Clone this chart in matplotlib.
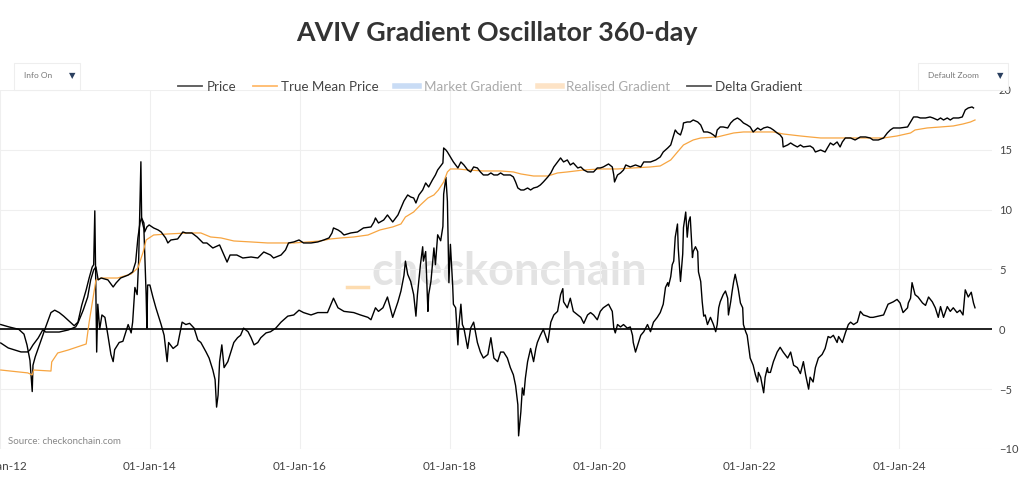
import numpy as np
import pandas as pd
import matplotlib
matplotlib.use("Agg")
import matplotlib.pyplot as plt
import matplotlib.dates as mdates
from matplotlib.lines import Line2D
from matplotlib.patches import Rectangle
from matplotlib.ticker import NullLocator

plt.rcParams["font.family"] = ["Lato", "DejaVu Sans"]

# Price (USD, log axis)
price_years = [
    2012.01, 2012.11, 2012.19, 2012.28, 2012.37, 2012.40, 2012.44, 2012.51, 2012.57, 2012.61,
    2012.68, 2012.79, 2012.91, 2013.01, 2013.04, 2013.11, 2013.17, 2013.21, 2013.25, 2013.28,
    2013.31, 2013.35, 2013.44, 2013.51, 2013.55, 2013.61, 2013.71, 2013.77, 2013.81, 2013.84,
    2013.87, 2013.89, 2013.92, 2013.93, 2013.96, 2013.99, 2014.05, 2014.11, 2014.15, 2014.21,
    2014.24, 2014.28, 2014.37, 2014.44, 2014.48, 2014.56, 2014.63, 2014.71, 2014.76, 2014.84,
    2014.93, 2015.03, 2015.07, 2015.16, 2015.24, 2015.35, 2015.44, 2015.52, 2015.61, 2015.65,
    2015.75, 2015.81, 2015.85, 2015.92, 2015.99, 2016.05, 2016.15, 2016.24, 2016.32, 2016.39,
    2016.43, 2016.45, 2016.51, 2016.55, 2016.59, 2016.68, 2016.77, 2016.85, 2016.95, 2016.99,
    2017.01, 2017.05, 2017.12, 2017.17, 2017.24, 2017.31, 2017.35, 2017.39, 2017.44, 2017.48,
    2017.52, 2017.55, 2017.59, 2017.64, 2017.68, 2017.72, 2017.77, 2017.81, 2017.84, 2017.91,
    2017.92, 2017.95, 2017.97, 2018.01, 2018.05, 2018.11, 2018.15, 2018.19, 2018.24, 2018.28,
    2018.32, 2018.37, 2018.41, 2018.45, 2018.51, 2018.55, 2018.59, 2018.64, 2018.68, 2018.72,
    2018.81, 2018.85, 2018.88, 2018.91, 2018.95, 2018.99, 2019.04, 2019.08, 2019.12, 2019.17,
    2019.21, 2019.25, 2019.31, 2019.35, 2019.39, 2019.44, 2019.48, 2019.52, 2019.57, 2019.61,
    2019.65, 2019.71, 2019.75, 2019.79, 2019.84, 2019.92, 2019.97, 2020.01, 2020.05, 2020.12,
    2020.17, 2020.19, 2020.20, 2020.24, 2020.28, 2020.32, 2020.35, 2020.41, 2020.48, 2020.55,
    2020.59, 2020.68, 2020.75, 2020.81, 2020.85, 2020.91, 2020.95, 2020.97, 2020.99, 2021.01,
    2021.04, 2021.08, 2021.11, 2021.12, 2021.17, 2021.21, 2021.25, 2021.31, 2021.35, 2021.39,
    2021.44, 2021.48, 2021.52, 2021.55, 2021.57, 2021.61, 2021.65, 2021.71, 2021.75, 2021.79,
    2021.84, 2021.88, 2021.92, 2021.97, 2022.01, 2022.05, 2022.11, 2022.15, 2022.19, 2022.24,
    2022.28, 2022.32, 2022.37, 2022.41, 2022.44, 2022.45, 2022.51, 2022.55, 2022.59, 2022.64,
    2022.68, 2022.72, 2022.81, 2022.85, 2022.88, 2022.95, 2023.01, 2023.04, 2023.08, 2023.12,
    2023.17, 2023.21, 2023.24, 2023.28, 2023.35, 2023.41, 2023.48, 2023.55, 2023.61, 2023.65,
    2023.72, 2023.79, 2023.84, 2023.88, 2023.92, 2024.01, 2024.11, 2024.15, 2024.19, 2024.24,
    2024.28, 2024.35, 2024.41, 2024.45, 2024.51, 2024.55, 2024.59, 2024.64, 2024.68, 2024.72,
    2024.79, 2024.84, 2024.88, 2024.92, 2024.97, 2024.99,
]
price_usd = [
    6.5, 5.3, 4.9, 4.5, 4.5, 4.9, 6.0, 8.0, 11.1, 10.2,
    10.2, 10.2, 11.1, 12.6, 14.8, 25, 43, 87, 131, 148,
    87, 94, 87, 65, 77, 94, 106, 121, 181, 488,
    941, 1109, 903, 624, 767, 833, 736, 678, 624, 488,
    397, 449, 468, 624, 599, 599, 508, 397, 397, 323,
    366, 181, 242, 242, 214, 223, 214, 274, 242, 214,
    242, 298, 397, 414, 449, 397, 397, 414, 449, 488,
    599, 736, 678, 624, 551, 599, 624, 736, 767, 941,
    1109, 903, 1021, 1255, 941, 1255, 1673, 2232, 2857, 2630,
    2523, 2055, 2857, 3506, 4678, 3968, 5291, 6502, 7985, 10650,
    19720, 18160, 16730, 13630, 11100, 8670, 11100, 9810, 7985, 7360,
    9040, 8670, 7360, 6502, 6502, 7060, 6500, 6500, 7060, 6500,
    6500, 5990, 4875, 3807, 3506, 3506, 3807, 3506, 3807, 3968,
    4308, 4875, 5990, 7060, 9040, 11100, 13080, 11100, 12050, 9810,
    10650, 8670, 9040, 7985, 7360, 7360, 8670, 8670, 9040, 10220,
    9040, 6500, 4875, 6500, 7060, 7985, 9810, 9040, 9810, 9040,
    11100, 11100, 12050, 13630, 16730, 19720, 22320, 27400, 33680, 41340,
    36550, 33680, 44880, 55140, 57450, 57450, 62360, 57450, 50800, 38090,
    38090, 36550, 33680, 31010, 41340, 46780, 46780, 44880, 55140, 62360,
    67710, 62360, 55140, 50800, 46780, 38090, 44880, 41340, 44880, 46780,
    44880, 41340, 36550, 33680, 29750, 20560, 22320, 24230, 22320, 20560,
    22320, 20560, 21400, 19720, 16730, 18160, 16730, 19720, 24230, 22320,
    25250, 20560, 25250, 29750, 29750, 27400, 31010, 31010, 29750, 27400,
    27400, 29750, 36550, 41340, 44880, 44880, 46780, 57450, 70550, 70550,
    67710, 67710, 70550, 67710, 62360, 67710, 62360, 67710, 62360, 67710,
    67710, 70550, 94100, 102200, 106500, 102200,
]

# True Mean Price (USD, log axis)
tmp_years = [
    2012.01, 2012.37, 2012.43, 2012.45, 2012.68, 2012.69, 2012.77, 2012.91, 2013.15, 2013.19,
    2013.28, 2013.35, 2013.57, 2013.75, 2013.84, 2013.91, 2013.95, 2014.05, 2014.24, 2014.51,
    2014.68, 2014.81, 2014.95, 2015.12, 2015.35, 2015.57, 2015.92, 2016.11, 2016.27, 2016.41,
    2016.55, 2016.72, 2016.91, 2017.07, 2017.24, 2017.35, 2017.41, 2017.52, 2017.61, 2017.71,
    2017.79, 2017.85, 2017.92, 2017.97, 2018.01, 2018.11, 2018.24, 2018.45, 2018.68, 2018.85,
    2018.95, 2019.12, 2019.31, 2019.44, 2019.57, 2019.79, 2020.01, 2020.24, 2020.45, 2020.68,
    2020.81, 2020.95, 2021.04, 2021.12, 2021.25, 2021.35, 2021.57, 2021.79, 2021.92, 2022.32,
    2022.45, 2022.68, 2022.81, 2022.95, 2023.79, 2023.97, 2024.15, 2024.21, 2024.37, 2024.55,
    2024.72, 2024.85, 2024.95, 2025.01,
]
tmp_usd = [
    2.14, 1.90, 1.75, 2.14, 2.05, 2.98, 4.31, 4.87, 6.24, 15.4,
    86.6, 94, 94, 111, 142, 274, 449, 551, 575, 599,
    599, 508, 488, 431, 414, 397, 397, 414, 431, 468,
    488, 508, 551, 678, 767, 867, 1155, 1420, 1894, 2523,
    2857, 3506, 4875, 7360, 8320, 8320, 7985, 7660, 7660, 7360,
    6780, 6230, 6230, 7060, 7360, 7985, 8320, 8320, 8670, 9040,
    9420, 12050, 16730, 22320, 27400, 29750, 31010, 36550, 38090, 38090,
    35070, 32310, 31010, 29750, 29750, 32310, 36550, 41340, 44880, 46780,
    48750, 52900, 57450, 62360,
]

# Delta Gradient (right axis)
delta_years = [
    2012.01, 2012.12, 2012.25, 2012.32, 2012.36, 2012.40, 2012.43, 2012.44, 2012.47, 2012.51,
    2012.56, 2012.61, 2012.68, 2012.73, 2012.79, 2012.85, 2012.92, 2012.99, 2013.04, 2013.09,
    2013.15, 2013.19, 2013.23, 2013.25, 2013.265, 2013.28, 2013.29, 2013.305, 2013.33, 2013.36,
    2013.40, 2013.44, 2013.48, 2013.51, 2013.53, 2013.59, 2013.64, 2013.71, 2013.75, 2013.77,
    2013.80, 2013.83, 2013.85, 2013.88, 2013.89, 2013.92, 2013.95, 2013.96, 2013.97, 2014.00,
    2014.04, 2014.08, 2014.15, 2014.19, 2014.23, 2014.25, 2014.31, 2014.37, 2014.43, 2014.48,
    2014.53, 2014.59, 2014.64, 2014.68, 2014.75, 2014.79, 2014.84, 2014.87, 2014.89, 2014.91,
    2014.93, 2014.96, 2014.99, 2015.04, 2015.08, 2015.12, 2015.17, 2015.21, 2015.25, 2015.31,
    2015.35, 2015.39, 2015.44, 2015.48, 2015.55, 2015.61, 2015.68, 2015.75, 2015.84, 2015.92,
    2015.99, 2016.05, 2016.15, 2016.24, 2016.37, 2016.45, 2016.51, 2016.59, 2016.72, 2016.81,
    2016.91, 2016.95, 2017.01, 2017.05, 2017.11, 2017.17, 2017.24, 2017.31, 2017.35, 2017.39,
    2017.41, 2017.44, 2017.48, 2017.52, 2017.55, 2017.57, 2017.61, 2017.64, 2017.65, 2017.68,
    2017.71, 2017.72, 2017.75, 2017.79, 2017.81, 2017.84, 2017.88, 2017.91, 2017.92, 2017.95,
    2017.97, 2017.99, 2018.01, 2018.04, 2018.05, 2018.08, 2018.11, 2018.12, 2018.15, 2018.17,
    2018.19, 2018.24, 2018.28, 2018.32, 2018.37, 2018.41, 2018.45, 2018.51, 2018.55, 2018.59,
    2018.64, 2018.68, 2018.72, 2018.77, 2018.81, 2018.85, 2018.88, 2018.91, 2018.92, 2018.95,
    2018.97, 2018.99, 2019.01, 2019.04, 2019.08, 2019.12, 2019.15, 2019.17, 2019.21, 2019.25,
    2019.31, 2019.35, 2019.39, 2019.44, 2019.48, 2019.51, 2019.52, 2019.57, 2019.61, 2019.65,
    2019.71, 2019.75, 2019.79, 2019.84, 2019.88, 2019.92, 2019.97, 2020.01, 2020.05, 2020.12,
    2020.17, 2020.19, 2020.21, 2020.24, 2020.28, 2020.32, 2020.37, 2020.41, 2020.44, 2020.45,
    2020.48, 2020.51, 2020.55, 2020.59, 2020.64, 2020.68, 2020.72, 2020.77, 2020.81, 2020.85,
    2020.88, 2020.91, 2020.92, 2020.95, 2020.97, 2020.99, 2021.01, 2021.04, 2021.05, 2021.08,
    2021.11, 2021.12, 2021.15, 2021.17, 2021.19, 2021.21, 2021.24, 2021.25, 2021.28, 2021.31,
    2021.32, 2021.35, 2021.37, 2021.39, 2021.41, 2021.44, 2021.48, 2021.52, 2021.55, 2021.57,
    2021.59, 2021.61, 2021.65, 2021.68, 2021.71, 2021.72, 2021.75, 2021.77, 2021.79, 2021.81,
    2021.84, 2021.85, 2021.88, 2021.91, 2021.92, 2021.95, 2021.97, 2022.01, 2022.05, 2022.08,
    2022.11, 2022.12, 2022.15, 2022.19, 2022.21, 2022.24, 2022.25, 2022.28, 2022.32, 2022.37,
    2022.41, 2022.45, 2022.51, 2022.55, 2022.59, 2022.64, 2022.68, 2022.72, 2022.75, 2022.77,
    2022.79, 2022.81, 2022.85, 2022.88, 2022.92, 2022.97, 2023.01, 2023.05, 2023.08, 2023.12,
    2023.17, 2023.19, 2023.24, 2023.28, 2023.32, 2023.35, 2023.39, 2023.44, 2023.48, 2023.52,
    2023.57, 2023.61, 2023.65, 2023.72, 2023.79, 2023.85, 2023.92, 2023.97, 2024.01, 2024.05,
    2024.11, 2024.12, 2024.15, 2024.17, 2024.21, 2024.25, 2024.31, 2024.35, 2024.39, 2024.44,
    2024.48, 2024.52, 2024.55, 2024.59, 2024.64, 2024.68, 2024.72, 2024.77, 2024.81, 2024.85,
    2024.88, 2024.92, 2024.96, 2024.99, 2025.01,
]
delta_values = [
    0.4, 0.2, 0.0, -0.4, -1.3, -2.6, -5.2, -3.0, -2.3, -1.6,
    -0.7, 0.2, 1.4, 1.6, 1.4, 1.1, 0.7, 0.3, 0.6, 2.0,
    3.3, 4.3, 5.2, 5.4, 9.9, 2.5, -1.9, 2.1, 0.0, 1.2,
    1.0, -0.5, -2.1, -2.7, -1.7, -1.1, -1.0, 0.4, -0.3, 0.6,
    3.5, 2.9, 5.7, 14.0, 9.2, 8.4, 2.9, 0.1, 3.7, 3.7,
    2.7, 1.8, 0.4, -0.5, -2.7, -1.1, -1.6, -1.3, 0.6, 0.4,
    0.5, 0.1, -0.9, -1.1, -1.9, -2.4, -3.4, -4.2, -6.5, -5.5,
    -2.7, -1.3, -3.2, -2.7, -1.9, -1.1, -0.7, -0.5, 0.1, -0.2,
    -0.7, -1.3, -1.1, -0.7, -0.3, -0.2, 0.1, 0.6, 1.1, 1.2,
    1.6, 1.4, 1.2, 1.4, 1.4, 2.6, 1.8, 1.5, 1.4, 1.2,
    1.0, 0.8, 1.8, 1.5, 1.8, 2.7, 1.0, 2.3, 3.2, 4.5,
    5.7, 4.6, 4.0, 2.9, 1.1, 2.9, 5.4, 6.9, 5.7, 6.5,
    1.5, 2.9, 4.0, 6.8, 5.4, 7.9, 7.4, 8.6, 11.3, 12.7,
    10.7, 3.9, 7.1, 3.7, 2.1, 1.8, -1.3, 0.1, 2.1, 0.4,
    0.1, -1.6, 0.1, 0.6, -1.1, -1.9, -2.4, -2.1, -0.7, -2.4,
    -2.7, -1.9, -1.9, -2.4, -3.2, -3.8, -4.7, -6.3, -8.9, -6.9,
    -4.9, -5.5, -4.1, -2.7, -1.6, -2.7, -1.6, -1.1, -0.5, 0.0,
    -1.1, 0.6, 1.2, 1.5, 2.9, 3.4, 2.3, 1.8, 2.6, 1.5,
    1.2, 1.0, 0.5, 1.2, 1.4, 1.2, 0.8, 1.5, 1.8, 2.1,
    1.5, 0.1, -0.3, 0.4, 0.2, 0.4, 0.1, 0.2, -0.5, -1.1,
    -1.9, -1.3, -0.5, -0.2, 0.4, -0.2, 0.6, 1.0, 1.4, 2.1,
    3.5, 3.9, 3.6, 4.4, 5.4, 5.7, 7.7, 8.8, 6.8, 4.0,
    6.3, 8.5, 9.8, 7.7, 9.0, 9.4, 6.0, 6.5, 6.9, 6.5,
    4.8, 4.0, 2.3, 1.1, 1.2, 0.4, 1.0, 0.4, -0.2, 0.4,
    1.8, 2.3, 2.9, 3.2, 2.6, 1.2, 2.3, 3.2, 4.0, 4.6,
    3.7, 3.4, 2.2, 1.8, 0.4, -0.2, -0.5, -2.4, -3.0, -3.8,
    -4.4, -3.6, -4.0, -5.3, -4.0, -3.2, -3.6, -3.6, -2.7, -1.9,
    -1.5, -1.9, -2.4, -1.9, -3.0, -3.2, -3.7, -2.7, -3.8, -4.4,
    -5.0, -4.0, -4.4, -3.2, -2.4, -2.1, -1.6, -0.6, -0.7, -0.5,
    -1.1, -0.6, -1.1, -0.3, 0.4, 0.6, 0.4, 0.6, 1.5, 1.2,
    1.1, 1.0, 1.0, 1.1, 1.2, 2.1, 2.3, 2.5, 2.2, 1.4,
    1.8, 2.2, 2.6, 3.9, 2.9, 2.7, 2.2, 2.0, 2.7, 2.3,
    1.8, 1.0, 1.9, 1.0, 1.9, 1.5, 1.8, 1.4, 1.6, 1.2,
    3.3, 2.7, 3.1, 2.2, 1.8,
]

tick_dates = ["2012-01-01", "2014-01-01", "2016-01-01", "2018-01-01",
              "2020-01-01", "2022-01-01", "2024-01-01"]
delta_ticks = [-10, -5, 0, 5, 10, 15, 20]


def to_dates(years):
    years = np.asarray(years, dtype=float)
    return pd.Timestamp("2012-01-01") + pd.to_timedelta((years - 2012) * 365.25, unit="D")


price_dates = to_dates(price_years)
tmp_dates = to_dates(tmp_years)
delta_dates = to_dates(delta_years)

fig = plt.figure(figsize=(10.24, 4.83), dpi=100)
ax = fig.add_axes([0, 0.0704, 0.9688, 0.7433])

# watermark behind the lines
ax.text(0.513, 0.457, "checkonchain", transform=ax.transAxes, ha="center",
        va="baseline", fontsize=32.5, fontweight="bold", color="#e3e3e3", zorder=0.5)

ax.axhline(0, color="#222222", lw=1.4, zorder=3)
ax.plot(delta_dates, delta_values, color="black", lw=1.0, zorder=4)
ax.set_ylim(-10, 20)
ax.grid(color="#efefef", lw=0.8)
ax.set_axisbelow(True)

ax2 = ax.twinx()
ax2.plot(tmp_dates, tmp_usd, color="#f7a541", lw=0.9, zorder=3)
ax2.plot(price_dates, price_usd, color="black", lw=1.0, zorder=4)
ax2.set_yscale("log")
ax2.set_ylim(0.0832, 214000)
ax2.yaxis.set_major_locator(NullLocator())
ax2.yaxis.set_minor_locator(NullLocator())

ax.yaxis.tick_right()
ax.set_yticks(delta_ticks)
ax.tick_params(axis="y", length=0, pad=5, labelsize=8, labelcolor="#444444")
ax.set_xticks(pd.to_datetime(tick_dates))
ax.xaxis.set_major_formatter(mdates.DateFormatter("%d-%b-%y"))
ax.tick_params(axis="x", length=0, pad=9, labelsize=8.5, labelcolor="#444444")
ax.set_xlim(pd.Timestamp("2012-01-01"), pd.Timestamp("2025-03-28"))
for a in (ax, ax2):
    for s in a.spines.values():
        s.set_visible(False)

fig.text(0.485, 0.932, "AVIV Gradient Oscillator 360-day", ha="center", va="center",
         fontsize=19.3, fontweight="bold", color="#333333")

handles = [
    Line2D([], [], color="#555555", lw=1.3),
    Line2D([], [], color="#ffba6b", lw=1.3),
    Line2D([], [], color="#c9dcf5", lw=4),
    Line2D([], [], color="#fde3c6", lw=4),
    Line2D([], [], color="#555555", lw=1.3),
]
labels = ["Price", "True Mean Price", "Market Gradient", "Realised Gradient", "Delta Gradient"]
leg = fig.legend(handles, labels, loc="center", bbox_to_anchor=(0.479, 0.82), ncol=5,
                 frameon=False, fontsize=9.6, handlelength=1.8, handletextpad=0.35,
                 columnspacing=1.2)
for txt, col in zip(leg.get_texts(), ["#444", "#444", "#aaa", "#aaa", "#444"]):
    txt.set_color(col)

# small orange mark left of the watermark
fig.add_artist(Line2D([347 / 1024, 368 / 1024], [1 - 287 / 483, 1 - 287 / 483],
                      color="#fddcb0", lw=2.5))

fig.text(8 / 1024, 1 - 441 / 483, "Source: checkonchain.com", fontsize=7, color="#888888",
         va="center")

# dropdown buttons
for x0, w, label, tx in [(14, 66, "Info On", 24), (918, 90, "Default Zoom", 928)]:
    fig.add_artist(Rectangle((x0 / 1024, 1 - 90 / 483), w / 1024, 27 / 483,
                             transform=fig.transFigure, fc="white", ec="#eeeeee", lw=0.8))
    fig.text(tx / 1024, 1 - 76 / 483, label, fontsize=6, color="#777777", va="center")
    fig.text((x0 + w - 8) / 1024, 1 - 76 / 483, "▼", fontsize=6, color="#2a3f5f",
             va="center", ha="center")

fig.savefig("out.png", dpi=100)
